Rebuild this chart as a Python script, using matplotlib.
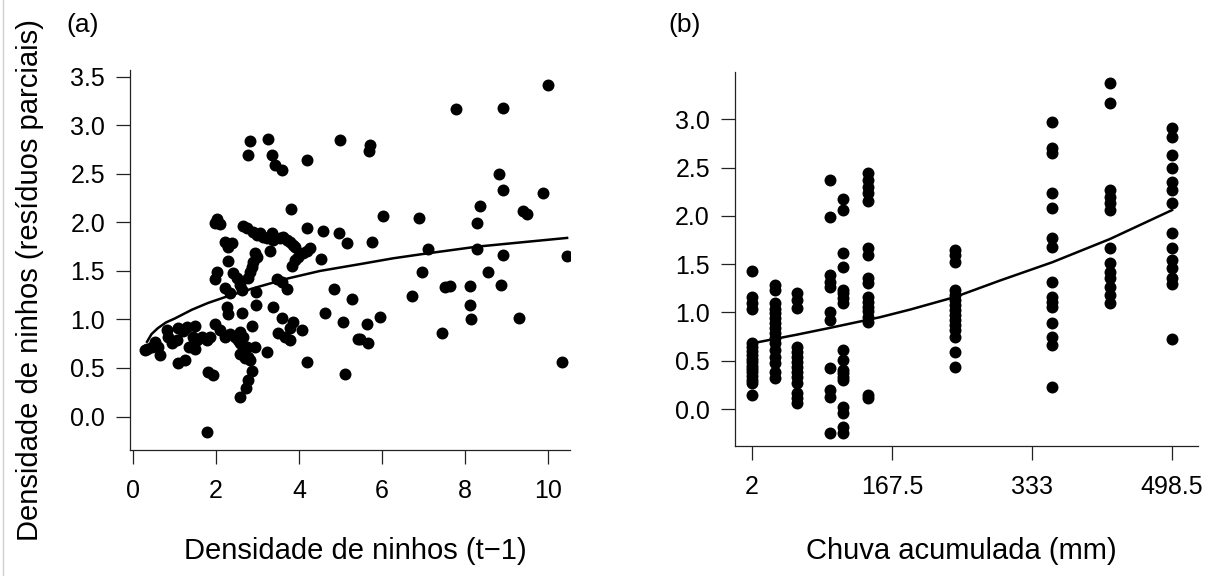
import numpy as np
import matplotlib.pyplot as plt
from matplotlib.lines import Line2D

plt.rcParams['font.family'] = ['Liberation Sans', 'DejaVu Sans']

# (a) densidade de ninhos no ano anterior vs residuos parciais
dens_x = [0.29, 0.34, 0.45, 0.53, 0.60, 0.65, 0.82, 0.84, 0.94, 1.06, 1.08, 1.30, 1.49,
          1.45, 1.54, 1.49, 1.66, 1.78, 1.86, 1.08, 1.25, 1.81, 1.93, 1.78, 1.20, 1.35,
          2.02, 1.98, 2.10, 2.22, 2.29, 2.39, 2.29, 2.02, 1.98, 2.41, 2.50, 2.58, 2.63,
          2.22, 2.34, 2.26, 2.29, 2.63, 1.98, 2.10, 2.22, 2.34, 2.46, 2.52, 2.58, 2.65,
          2.58, 2.70, 2.58, 2.65, 2.75, 2.94, 2.77, 2.82, 2.87, 2.77, 2.72, 2.58,
          2.65, 2.75, 2.89, 2.99, 3.06, 3.13, 3.23, 3.35, 3.37, 3.54, 3.61, 3.71, 3.78,
          3.86, 3.90, 3.30, 2.94, 2.99, 2.89, 2.87, 2.82, 2.77, 4.27, 4.19, 4.10, 3.98,
          3.90, 3.83, 4.53, 3.47, 3.59, 3.71, 4.84, 5.28, 2.96, 2.96, 3.37, 3.59, 4.63,
          5.06, 5.42, 2.87, 3.86, 3.78, 4.07, 3.49, 3.66, 3.78, 3.23, 4.19, 5.11, 3.81,
          4.19, 4.58, 4.96, 5.16,
          2.82, 3.25, 2.77, 3.35, 3.42, 3.60, 4.19, 5.00,
          10.00, 7.78, 8.92, 5.71, 5.68, 8.82, 8.92, 9.88, 9.40, 9.49, 8.36, 8.29, 6.02,
          6.89, 5.76, 7.11, 8.29, 8.92, 10.46, 6.96, 8.55, 6.72, 7.52, 7.64, 8.12, 8.87,
          8.12, 8.14, 9.30, 7.45, 5.95, 5.64, 5.66, 5.47, 10.34]
dens_y = [0.69, 0.70, 0.72, 0.77, 0.72, 0.63, 0.89, 0.82, 0.76, 0.79, 0.91, 0.92, 0.93,
          0.82, 0.79, 0.70, 0.82, 0.79, 0.82, 0.55, 0.58, 0.46, 0.43, -0.16, 0.88, 0.72,
          2.04, 1.99, 1.98, 1.80, 1.75, 1.79, 1.60, 1.49, 1.42, 1.48, 1.43, 1.36, 1.30,
          1.32, 1.27, 1.13, 1.06, 1.07, 0.95, 0.89, 0.82, 0.85, 0.82, 0.79, 0.76, 0.72,
          0.64, 0.60, 0.87, 0.82, 0.72, 0.72, 0.61, 0.58, 0.47, 0.38, 0.29, 0.20,
          1.96, 1.94, 1.90, 1.87, 1.89, 1.85, 1.84, 1.89, 1.82, 1.84, 1.85, 1.82, 1.80,
          1.77, 1.75, 1.71, 1.68, 1.64, 1.59, 1.54, 1.49, 1.43, 1.74, 1.71, 1.68, 1.64,
          1.61, 1.55, 1.62, 1.42, 1.39, 1.31, 1.31, 1.21, 1.28, 1.15, 1.13, 1.02, 1.07,
          0.97, 0.80, 0.93, 0.97, 0.91, 0.89, 0.86, 0.82, 0.79, 0.66, 0.56, 0.44, 2.14,
          1.94, 1.91, 1.89, 1.79,
          2.84, 2.86, 2.69, 2.69, 2.59, 2.54, 2.64, 2.85,
          3.42, 3.17, 3.18, 2.80, 2.74, 2.50, 2.33, 2.30, 2.12, 2.09, 2.17, 1.99, 2.07,
          2.05, 1.80, 1.73, 1.73, 1.66, 1.65, 1.49, 1.49, 1.24, 1.33, 1.34, 1.34, 1.36,
          1.15, 1.00, 1.02, 0.86, 1.03, 0.95, 0.76, 0.80, 0.56]

# fitted curve (a)
fit_a_x = [0.34, 0.45, 0.60, 0.80, 1.01, 1.42, 1.81, 2.22, 2.89, 3.71, 4.51, 5.47,
           6.27, 7.08, 8.29, 9.49, 10.46]
fit_a_y = [0.77, 0.85, 0.91, 0.97, 1.01, 1.10, 1.17, 1.23, 1.32, 1.42, 1.50, 1.57,
           1.63, 1.68, 1.75, 1.80, 1.84]

# (b) chuva acumulada vs residuos parciais
rain_levels = [2, 29, 55, 94, 110, 139, 242, 357, 425, 498.5]
rain_resid = [
    [1.43, 1.16, 1.10, 1.04, 0.68, 0.64, 0.60, 0.56, 0.52, 0.49, 0.45, 0.41, 0.38,
     0.34, 0.30, 0.27, 0.15],
    [1.28, 1.23, 1.10, 1.04, 0.99, 0.94, 0.89, 0.84, 0.79, 0.74, 0.68, 0.61, 0.54,
     0.48, 0.38, 0.32],
    [1.20, 1.13, 1.05, 0.64, 0.59, 0.54, 0.49, 0.44, 0.38, 0.33, 0.27, 0.17, 0.11, 0.06],
    [2.37, 1.99, 1.39, 1.32, 1.26, 1.00, 0.92, 0.42, 0.20, 0.12, -0.25],
    [2.17, 2.06, 1.62, 1.47, 1.23, 1.20, 1.15, 1.10, 0.61, 0.51, 0.40, 0.37, 0.33,
     0.30, 0.02, -0.04, -0.19, -0.25],
    [2.44, 2.37, 2.30, 2.24, 2.15, 1.67, 1.60, 1.36, 1.31, 1.16, 1.11, 1.06, 1.01,
     0.95, 0.90, 0.15, 0.11],
    [1.65, 1.60, 1.52, 1.23, 1.18, 1.13, 1.08, 1.03, 0.97, 0.92, 0.87, 0.82, 0.75,
     0.59, 0.44],
    [2.97, 2.70, 2.65, 2.24, 2.08, 1.77, 1.68, 1.32, 1.16, 1.11, 1.06, 0.89, 0.75,
     0.66, 0.23],
    [3.38, 3.17, 2.27, 2.20, 2.13, 2.06, 1.67, 1.51, 1.42, 1.36, 1.26, 1.18, 1.10],
    [2.91, 2.82, 2.63, 2.50, 2.35, 2.27, 2.13, 1.82, 1.67, 1.54, 1.46, 1.36, 1.29, 0.72],
]
fit_b_x = [2, 55, 94, 153, 189, 242, 295, 357, 425, 498.5]
fit_b_y = [0.68, 0.77, 0.84, 0.95, 1.03, 1.16, 1.33, 1.52, 1.76, 2.06]

rain_x = np.concatenate([[lv] * len(r) for lv, r in zip(rain_levels, rain_resid)])
rain_y = np.concatenate(rain_resid)

fig = plt.figure(figsize=(12.17, 5.76), dpi=100)
ax1 = fig.add_axes([130 / 1217, 1 - 450 / 576, 440 / 1217, 380 / 576])
ax2 = fig.add_axes([735 / 1217, 1 - 446 / 576, 463 / 1217, 374 / 576])

for ax in (ax1, ax2):
    ax.spines['top'].set_visible(False)
    ax.spines['right'].set_visible(False)
    for s in ('left', 'bottom'):
        ax.spines[s].set_linewidth(0.9)
        ax.spines[s].set_color('#222222')
    ax.tick_params(direction='out', length=10, width=0.9, labelsize=18,
                   color='#222222')
    ax.tick_params(axis='x', pad=11)
    ax.tick_params(axis='y', pad=8)

ax1.plot(dens_x, dens_y, 'o', color='black', ms=8.6, mew=0)
ax1.plot(fit_a_x, fit_a_y, '-', color='black', lw=1.8)
ax1.set_xlim(-0.07, 10.53)
ax1.set_ylim(-0.345, 3.57)
ax1.set_xticks([0, 2, 4, 6, 8, 10])
ax1.set_yticks([0, 0.5, 1, 1.5, 2, 2.5, 3, 3.5])
ax1.set_yticklabels(['0.0', '0.5', '1.0', '1.5', '2.0', '2.5', '3.0', '3.5'])

ax2.plot(rain_x, rain_y, 'o', color='black', ms=8.6, mew=0)
ax2.plot(fit_b_x, fit_b_y, '-', color='black', lw=1.8)
ax2.set_xlim(-18.1, 529.2)
ax2.set_ylim(-0.383, 3.49)
ax2.set_xticks([2, 167.5, 333, 498.5])
ax2.set_xticklabels(['2', '167.5', '333', '498.5'])
ax2.set_yticks([0, 0.5, 1, 1.5, 2, 2.5, 3])
ax2.set_yticklabels(['0.0', '0.5', '1.0', '1.5', '2.0', '2.5', '3.0'])

fig.text(30 / 1217, 1 - 280 / 576, 'Densidade de ninhos (resíduos parciais)',
         rotation=90, ha='center', va='center', fontsize=21)
fig.text(355 / 1217, 1 - 551 / 576, 'Densidade de ninhos (t\u22121)',
         ha='center', va='center', fontsize=21)
fig.text(961 / 1217, 1 - 551 / 576, 'Chuva acumulada (mm)',
         ha='center', va='center', fontsize=21)
fig.text(83 / 1217, 1 - 25 / 576, '(a)', ha='center', va='center', fontsize=19)
fig.text(685 / 1217, 1 - 25 / 576, '(b)', ha='center', va='center', fontsize=19)

fig.add_artist(Line2D([3 / 1217, 3 / 1217], [0, 1], color='#d0d0d0', lw=1))

fig.savefig('out.png', dpi=100)
